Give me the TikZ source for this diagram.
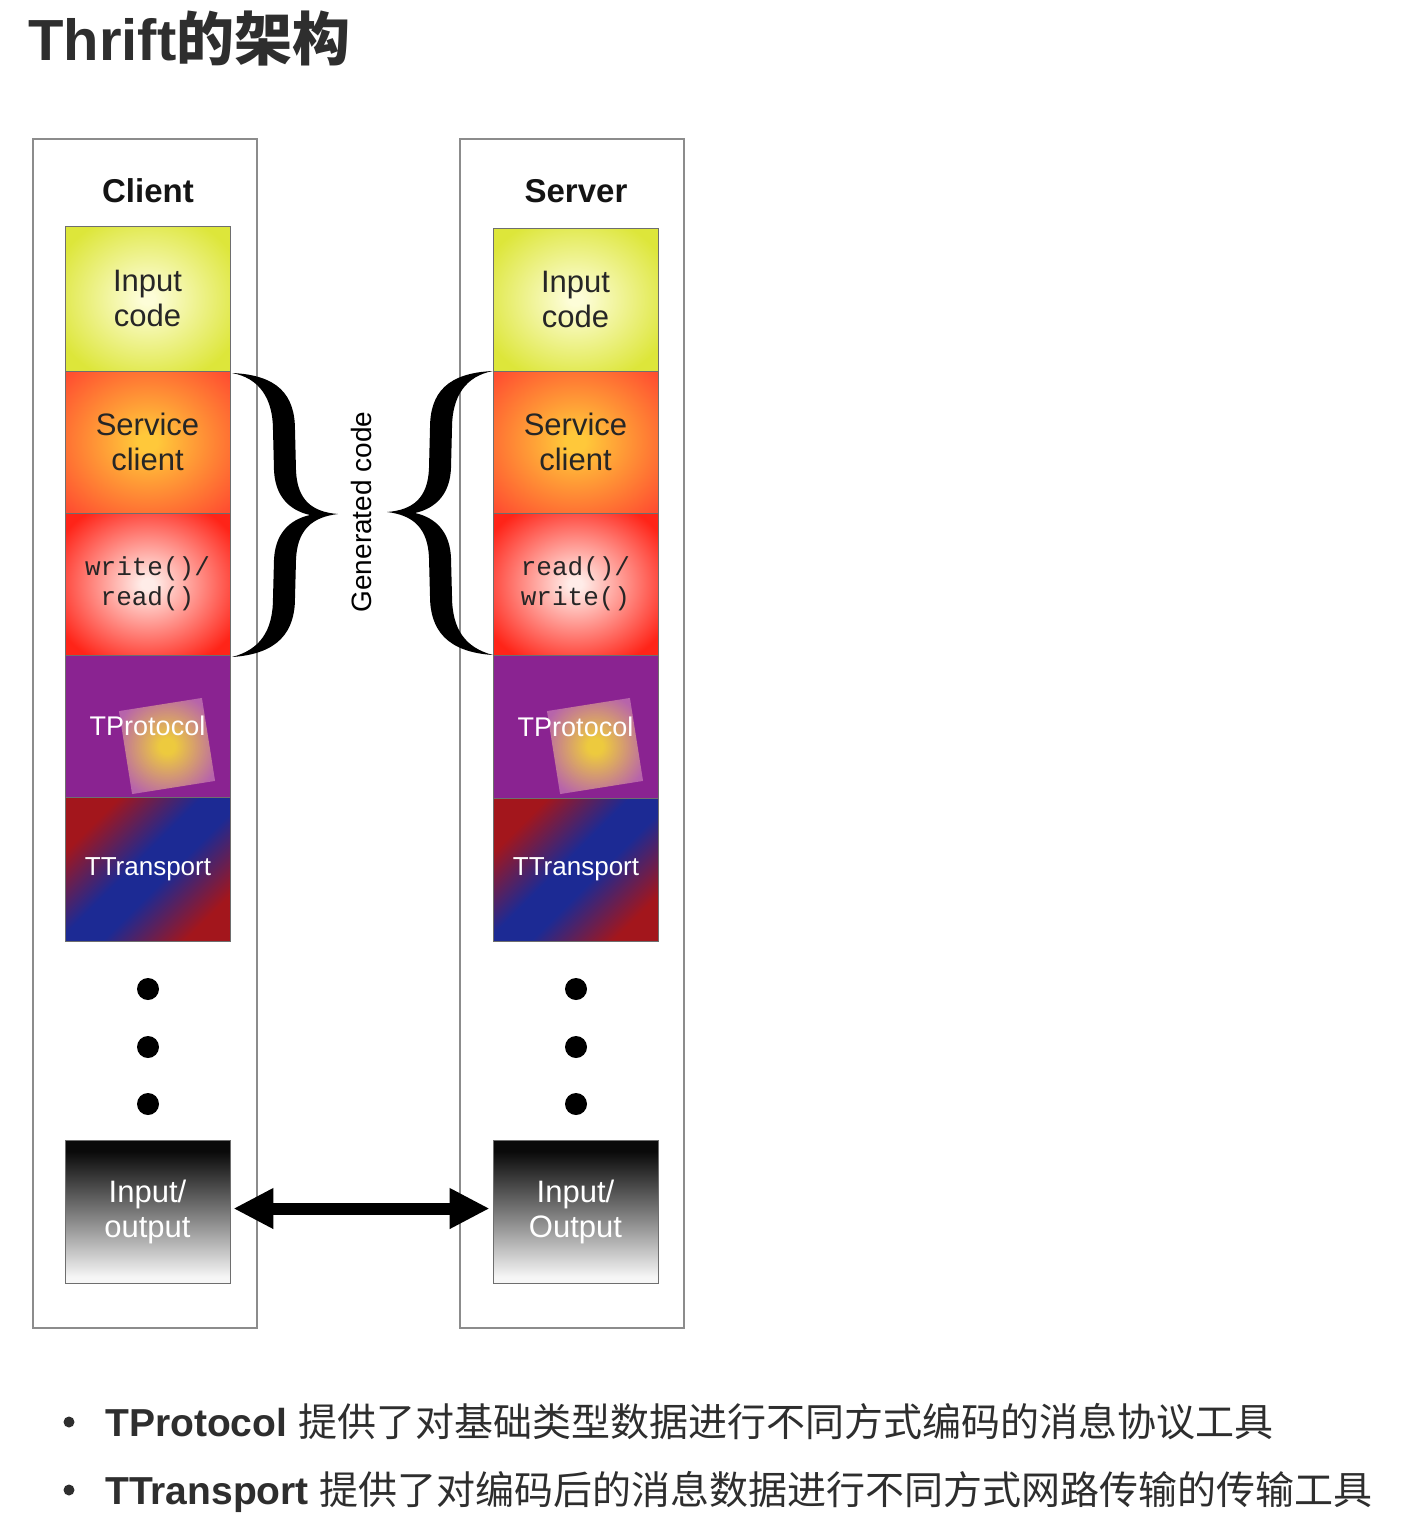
\documentclass[tikz,border=0pt]{standalone}
\usepackage{fontspec}
\setmainfont{Liberation Sans}
\setmonofont{Liberation Mono}
\newfontfamily\cjk{Noto Sans CJK SC}
\usetikzlibrary{arrows.meta}

\definecolor{textDark}{HTML}{2E2E2E}
\definecolor{frameGray}{HTML}{8C8C8C}
\definecolor{layerEdge}{HTML}{6E6E6E}
\definecolor{inC}{HTML}{FDFDD8}
\definecolor{inE}{HTML}{DDE63A}
\definecolor{svC}{HTML}{FFC83A}
\definecolor{svE}{HTML}{FF4E30}
\definecolor{wrC}{HTML}{FFECE8}
\definecolor{wrE}{HTML}{FF2418}
\definecolor{purp}{HTML}{8A2391}
\definecolor{sqC}{HTML}{FFE830}
\definecolor{sqE}{HTML}{C070B0}
\definecolor{tR}{HTML}{A3161C}
\definecolor{tB}{HTML}{1C2A94}
\definecolor{ioTop}{HTML}{0A0A0A}
\definecolor{ioMid}{HTML}{787878}
\definecolor{ioBot}{HTML}{F6F6F6}

% pgf maps the central 50bp square of a shading onto the path's bounding box
\pgfdeclareradialshading{gInput}{\pgfpoint{0bp}{0bp}}{color(0bp)=(inC); color(2bp)=(inC); color(30bp)=(inE); color(50bp)=(inE)}
\pgfdeclareradialshading{gServ}{\pgfpoint{0bp}{0bp}}{color(0bp)=(svC); color(3bp)=(svC); color(34bp)=(svE); color(50bp)=(svE)}
\pgfdeclareradialshading{gWr}{\pgfpoint{0bp}{0bp}}{color(0bp)=(wrC); color(2bp)=(wrC); color(31bp)=(wrE); color(50bp)=(wrE)}
\pgfdeclareradialshading{gSq}{\pgfpoint{0bp}{0bp}}{color(0bp)=(sqC); color(4bp)=(sqC); color(28bp)=(sqE); color(50bp)=(sqE)}
\pgfdeclarehorizontalshading{gTr}{100bp}{color(0bp)=(tR); color(27bp)=(tR); color(46bp)=(tB); color(56bp)=(tB); color(75bp)=(tR); color(100bp)=(tR)}
\pgfdeclareverticalshading{gIo}{100bp}{color(0bp)=(ioBot); color(27bp)=(ioBot); color(50bp)=(ioMid); color(71bp)=(ioTop); color(100bp)=(ioTop)}

\tikzset{
  frame/.style={draw=frameGray, line width=1.6pt, minimum width=224pt, minimum height=1189pt, inner sep=0pt},
  layer/.style={draw=layerEdge, line width=0.8pt, minimum width=165pt, inner sep=0pt, align=center,
                font=\fontsize{31}{35}\selectfont, text=black!85},
  ltext/.style={inner sep=0pt, align=center, text=white, font=\fontsize{27}{31}\selectfont},
  head/.style={inner sep=0pt, font=\fontsize{33}{38}\selectfont\bfseries, text=black!92},
  dotb/.style={circle, fill=black, minimum size=22pt, inner sep=0pt},
  bul/.style={circle, fill=textDark, minimum size=11pt, inner sep=0pt},
  btext/.style={anchor=base west, inner sep=0pt, text=textDark, font=\fontsize{39}{44}\selectfont},
  bracefill/.style={fill=black},
}

\newcommand{\mybrace}{%
  (0,373) .. controls (46,375) and (63,395) .. (63,430) -- (64,470)
  .. controls (65,500) and (80,512) .. (106,514)
  .. controls (80,517) and (65,530) .. (64,560) -- (63,598)
  .. controls (63,632) and (46,654) .. (0,657)
  .. controls (27,650) and (41,632) .. (41,598) -- (42,560)
  .. controls (43,535) and (56,520) .. (78,515)
  .. controls (56,510) and (43,495) .. (42,470) -- (41,430)
  .. controls (41,398) and (27,378) .. (0,373) -- cycle}

\begin{document}
\begin{tikzpicture}[x=1pt, y=-1pt]
\useasboundingbox (0,0) rectangle (1427,1529);
\fill[white] (0,0) rectangle (1427,1529);

% title
\node[anchor=base west, inner sep=0pt, text=textDark] (title) at (28,60)
  {\fontsize{58}{62}\selectfont\bfseries Thrift{\cjk\bfseries 的架构}};

% frames
\node[frame] (cf) at (145,733.5) {};
\node[frame] (sf) at (572,733.5) {};
\node[head] (ch) at (148,191) {Client};
\node[head] (sh) at (576,191) {Server};

% client stack
\node[layer, minimum height=145pt, shade, shading=gInput] (c1) at (147.5,298.5) {Input\\code};
\node[layer, minimum height=142pt, shade, shading=gServ] (c2) at (147.5,442) {Service\\client};
\node[layer, minimum height=142pt, shade, shading=gWr, font=\ttfamily\fontsize{26}{30}\selectfont] (c3) at (147.5,584) {write()/\\read()};
\node[layer, minimum height=142pt, fill=purp] (c4) at (147.5,726) {};
\shade[shading=gSq, opacity=0.85, rotate around={9:(167,746)}] (125,704) rectangle (209,788);
\node[ltext] (c4t) at (147.5,726) {TProtocol};
\node[layer, minimum height=144pt, shade, shading=gTr, shading angle=-45] (c5) at (147.5,869) {};
\node[ltext, font=\fontsize{26}{30}\selectfont] (c5t) at (148,869) {TTransport};
\node[dotb] (cd1) at (148,989) {};
\node[dotb] (cd2) at (148,1047) {};
\node[dotb] (cd3) at (148,1104) {};
\node[layer, minimum height=143pt, shade, shading=gIo, text=white] (c6) at (147.5,1211.5) {Input/\\output};

% server stack
\node[layer, minimum height=143pt, shade, shading=gInput] (s1) at (575.5,299.5) {Input\\code};
\node[layer, minimum height=142pt, shade, shading=gServ] (s2) at (575.5,442) {Service\\client};
\node[layer, minimum height=142pt, shade, shading=gWr, font=\ttfamily\fontsize{26}{30}\selectfont] (s3) at (575.5,584) {read()/\\write()};
\node[layer, minimum height=143pt, fill=purp] (s4) at (575.5,726.5) {};
\shade[shading=gSq, opacity=0.85, rotate around={9:(595,746)}] (553,704) rectangle (637,788);
\node[ltext] (s4t) at (575.5,727) {TProtocol};
\node[layer, minimum height=143pt, shade, shading=gTr, shading angle=-45] (s5) at (575.5,869.5) {};
\node[ltext, font=\fontsize{26}{30}\selectfont] (s5t) at (576,869) {TTransport};
\node[dotb] (sd1) at (576,989) {};
\node[dotb] (sd2) at (576,1047) {};
\node[dotb] (sd3) at (576,1104) {};
\node[layer, minimum height=143pt, shade, shading=gIo, text=white] (s6) at (575.5,1211.5) {Input/\\Output};

% braces
\begin{scope}[shift={(232,0)}]
  \fill[bracefill] \mybrace;
\end{scope}
\begin{scope}[shift={(493,-2)}, xscale=-1]
  \fill[bracefill] \mybrace;
\end{scope}
\node[rotate=90, inner sep=0pt, font=\fontsize{28}{32}\selectfont] (gen) at (361,512) {Generated code};

% io arrow
\draw[line width=12pt, {Triangle[length=40pt,width=38pt]}-{Triangle[length=40pt,width=38pt]}]
  ([xshift=3pt,yshift=3pt]c6.east) -- ([xshift=-3pt,yshift=3pt]s6.west);

% bullets
\node[bul] (b1) at (69,1422) {};
\node[btext] (b1t) at (105,1436) {\textbf{TProtocol} {\cjk 提供了对基础类型数据进行不同方式编码的消息协议工具}};
\node[bul] (b2) at (69,1490) {};
\node[btext] (b2t) at (105,1504) {\textbf{TTransport} {\cjk 提供了对编码后的消息数据进行不同方式网路传输的传输工具}};
\end{tikzpicture}
\end{document}
